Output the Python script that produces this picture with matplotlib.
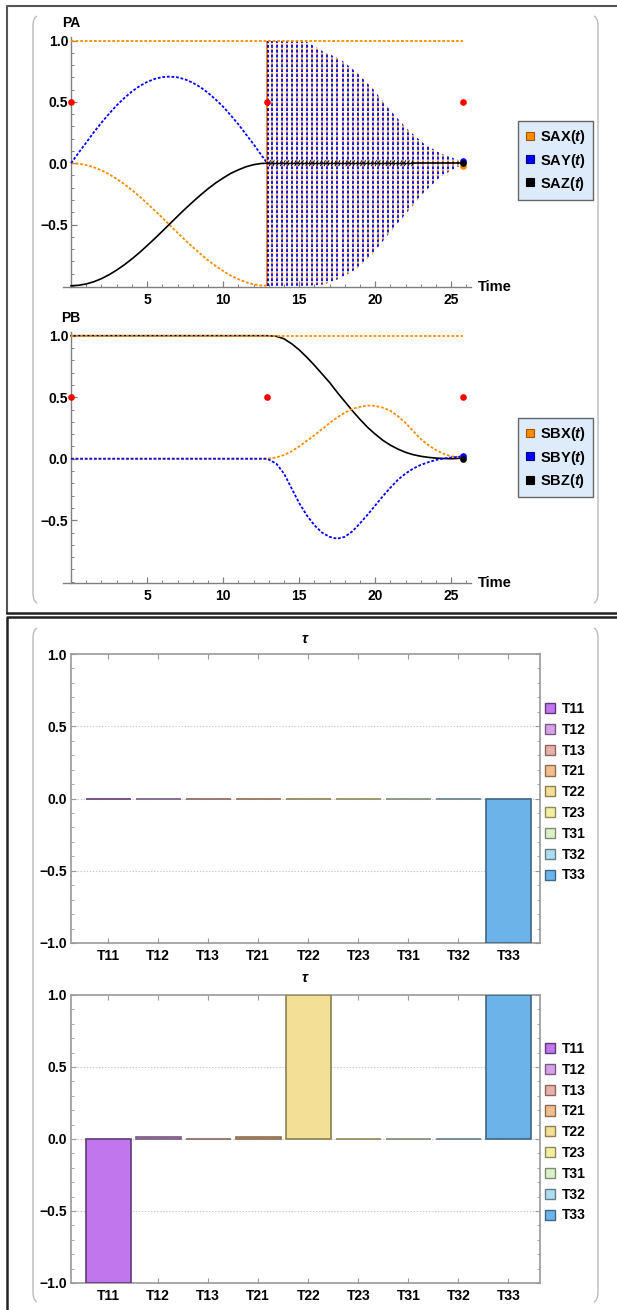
import numpy as np
import matplotlib.pyplot as plt
from matplotlib.patches import Polygon, PathPatch, Patch
from matplotlib.path import Path
from matplotlib.lines import Line2D
from matplotlib.ticker import MultipleLocator, FixedLocator
import matplotlib.patheffects as pe

plt.rcParams['font.family'] = ['Liberation Sans', 'DejaVu Sans']
plt.rcParams['font.weight'] = 'bold'
plt.rcParams['mathtext.fontset'] = 'custom'
plt.rcParams['mathtext.rm'] = 'Liberation Sans:bold'
plt.rcParams['mathtext.it'] = 'Liberation Sans:italic:bold'
plt.rcParams['lines.scale_dashes'] = False

# ---------------- data ----------------
# PA, before the switch at t = 12.9
t_pre = [0, 0.5, 1, 1.5, 2, 2.5, 3, 3.5, 4, 4.5, 5, 5.5, 6, 6.5, 7, 7.5, 8, 8.5, 9, 9.5,
         10, 10.5, 11, 11.5, 12, 12.5, 12.9]
sax_pre = [0.0, -0.004, -0.015, -0.033, -0.058, -0.090, -0.128, -0.171, -0.219, -0.271, -0.327,
           -0.385, -0.445, -0.506, -0.567, -0.627, -0.684, -0.739, -0.791, -0.838, -0.879,
           -0.917, -0.946, -0.971, -0.988, -0.998, -1.0]
say_pre = [0.0, 0.086, 0.169, 0.253, 0.331, 0.404, 0.472, 0.532, 0.585, 0.629, 0.663, 0.688,
           0.703, 0.707, 0.701, 0.684, 0.657, 0.621, 0.575, 0.521, 0.461, 0.391, 0.318, 0.236,
           0.156, 0.069, 0.0]
saz_pre = [-1.0, -0.996, -0.985, -0.967, -0.942, -0.910, -0.872, -0.829, -0.781, -0.729, -0.673,
           -0.615, -0.555, -0.494, -0.433, -0.373, -0.316, -0.261, -0.209, -0.162, -0.121,
           -0.083, -0.054, -0.029, -0.012, -0.002, 0.0]

# PA, after the switch: envelope of the fast SAX / SAY oscillation
env_t = [12.9, 13.5, 15.0, 15.5, 16.6, 17.7, 18.8, 19.9, 21.0, 22.1, 23.2, 24.3, 25.4, 25.8]
env_hi = [1.0, 1.0, 1.0, 0.99, 0.91, 0.85, 0.74, 0.60, 0.43, 0.28, 0.16, 0.08, 0.03, 0.01]
env_lo = [-1.0, -1.0, -1.0, -1.0, -0.99, -0.94, -0.86, -0.73, -0.56, -0.40, -0.24, -0.11, -0.03, -0.02]
saz_wig_t = [12.9, 22.5]
saz_wig = [0.0, 0.0]
saz_post_t = [22.5, 25.8]
saz_post = [0.0, 0.0]

# PB
t_b = [0, 12.9, 13.5, 14, 14.5, 15, 15.5, 16, 16.5, 17, 17.5, 18, 18.5, 19, 19.5, 20, 20.5,
       21, 21.5, 22, 22.5, 23, 23.5, 24, 24.5, 25, 25.8]
sbx = [0.0, 0.0, 0.01, 0.03, 0.06, 0.10, 0.145, 0.19, 0.24, 0.29, 0.335, 0.375, 0.405, 0.422,
       0.432, 0.43, 0.415, 0.39, 0.345, 0.29, 0.225, 0.16, 0.11, 0.07, 0.04, 0.02, 0.01]
sby = [0.0, 0.0, -0.04, -0.12, -0.24, -0.36, -0.46, -0.54, -0.60, -0.635, -0.65, -0.635, -0.59,
       -0.525, -0.455, -0.38, -0.305, -0.235, -0.17, -0.12, -0.08, -0.05, -0.028, -0.01, 0.002,
       0.01, 0.02]
sbz = [1.0, 1.0, 0.995, 0.975, 0.935, 0.885, 0.825, 0.76, 0.69, 0.62, 0.54, 0.465, 0.39, 0.32,
       0.255, 0.20, 0.15, 0.11, 0.078, 0.052, 0.033, 0.02, 0.011, 0.005, 0.002, 0.0, 0.005]

# norm (4th function, same style as the first)
norm_t = [0, 25.8]
norm = [1.0, 1.0]

# epilog points
red_t = [0, 12.9, 25.8]
red_y = [0.5, 0.5, 0.5]
end_a = {'orange': -0.02, 'blue': 0.015, 'black': 0.0}
end_b = {'orange': 0.01, 'blue': 0.02, 'black': 0.0}

# bar charts
cats = ['T11', 'T12', 'T13', 'T21', 'T22', 'T23', 'T31', 'T32', 'T33']
tau1 = [0, 0, 0, 0, 0, 0, 0, 0, -1.0]
tau2 = [-1.0, 0.012, 0.002, 0.012, 1.0, 0.001, 0.0, 0.0, 1.0]
fills = ['#C176EE', '#D8A0E6', '#E8B0A8', '#F2BE8C', '#F3DF96', '#F2F0A0', '#DCEFC8', '#AEDCEC', '#6BB3E8']
edges = ['#5E3A78', '#785A82', '#8A6660', '#8C6E50', '#8C8050', '#8C8A5C', '#7F8A72', '#657F88', '#3E6686']

ORANGE = '#FF8C00'
BLUE = '#0000FF'

W, H = 617, 1310
fig = plt.figure(figsize=(W / 100, H / 100), dpi=100)


def fx(px):
    return px / W


def fy(py):
    return 1 - py / H


def box(l, t, r, b):
    return [fx(l), fy(b), fx(r) - fx(l), fy(t) - fy(b)]


# ---------------- cell frames ----------------
def fline(xs, ys, **kw):
    fig.add_artist(Line2D([fx(x) for x in xs], [fy(y) for y in ys], transform=fig.transFigure, **kw))


fline([7, 7, 620], [613, 6, 6], color='#555555', lw=1.5)
fline([7, 620], [613, 613], color='#222222', lw=1.8)
fline([620, 7, 7], [617, 617, 1312], color='#222222', lw=1.8)


def bracket(x0, y0, y1, side):
    s = 1 if side == 'l' else -1
    pts = [(x0 + 4 * s, y0), (x0, y0 + 2), (x0, y0 + 10), (x0, y1 - 10), (x0, y1 - 2), (x0 + 4 * s, y1)]
    codes = [Path.MOVETO, Path.CURVE3, Path.CURVE3, Path.LINETO, Path.CURVE3, Path.CURVE3]
    p = Path([(fx(a), fy(b)) for a, b in pts], codes)
    fig.add_artist(PathPatch(p, transform=fig.transFigure, fc='none', ec='#BBBBBB', lw=1.0))


for (a, b) in [(16, 603), (628, 1302)]:
    bracket(33, a, b, 'l')
    bracket(598, a, b, 'r')


# ---------------- PA / PB time plots ----------------
def time_axes(top, bottom, name):
    ax = fig.add_axes(box(63, top, 471, bottom))
    ax.set_xlim(-0.53, 26.3)
    ax.set_ylim(-1.01, 1.03)
    for s in ['top', 'right']:
        ax.spines[s].set_visible(False)
    ax.spines['left'].set_position(('data', 0))
    for s in ['left', 'bottom']:
        ax.spines[s].set_color('#808080')
        ax.spines[s].set_linewidth(1.0)
    ax.xaxis.set_major_locator(FixedLocator([5, 10, 15, 20, 25]))
    ax.xaxis.set_minor_locator(MultipleLocator(1))
    ax.yaxis.set_major_locator(FixedLocator([-0.5, 0, 0.5, 1.0]))
    ax.yaxis.set_minor_locator(MultipleLocator(0.1))
    ax.set_yticklabels(['\u22120.5', '0.0', '0.5', '1.0'])
    ax.tick_params(which='both', direction='in', color='#808080', labelsize=10)
    ax.tick_params(which='major', length=4.5, width=0.9)
    ax.tick_params(which='minor', length=2.5, width=0.7)
    ax.tick_params(axis='x', pad=4)
    ax.tick_params(axis='y', pad=2)
    ax.patch.set_alpha(0)
    fig.text(fx(71), fy(top - 14), name, ha='center', va='center', fontsize=10)
    fig.text(fx(478), fy(bottom), 'Time', ha='left', va='center', fontsize=10.5)
    return ax


dash = (0, (2.0, 1.3))

axA = time_axes(37, 287, 'PA')
axA.plot(t_pre, sax_pre, color=ORANGE, lw=1.3, ls=dash, zorder=3)
axA.plot(t_pre, say_pre, color=BLUE, lw=1.3, ls=dash, zorder=3)
axA.plot(t_pre, saz_pre, color='black', lw=1.2, zorder=4)

# fast oscillation band (drawn as dashed columns clipped to the envelope)
env = Polygon(list(zip(env_t, env_hi)) + list(zip(env_t[::-1], env_lo[::-1])),
              closed=True, fc='none', ec='none', transform=axA.transData)
axA.add_patch(env)
cols = np.arange(env_t[0], env_t[-1], 0.33)
vo = axA.vlines(cols, -1.0, 1.0, colors=ORANGE, linestyles=[(2.0, (1.5, 2.0))], lw=1.3, zorder=3)
vb = axA.vlines(cols, -1.0, 1.0, colors=BLUE, linestyles=[(0, (2.0, 1.5))], lw=1.3, zorder=3)
vb.set_clip_path(env)
vo.set_clip_path(env)
axA.vlines([env_t[0]], -1.0, 1.0, colors=ORANGE, lw=1.4, zorder=3)
axA.vlines([env_t[0] + 0.05], -1.0, 1.0, colors=BLUE, linestyles=[(0, (2.0, 1.5))], lw=1.4, zorder=3)

axA.plot(saz_wig_t, saz_wig, color='black', lw=1.0, zorder=4,
         path_effects=[pe.withTickedStroke(spacing=2.6, angle=60, length=0.8, linewidth=0.7),
                       pe.TickedStroke(spacing=2.6, angle=-120, length=0.8, linewidth=0.7, offset=(1.3, 0))])
axA.plot(saz_post_t, saz_post, color='black', lw=1.2, zorder=4)
axA.plot(norm_t, norm, color=ORANGE, lw=1.3, ls=dash, zorder=5)
axA.plot(red_t, red_y, 'o', color='red', ms=4.8, mec='none', zorder=6, clip_on=False)
for c, v in end_a.items():
    axA.plot([25.8], [v], 'o', color=c if c != 'orange' else ORANGE, ms=4.8, mec='none', zorder=6)

axB = time_axes(332, 583, 'PB')
axB.plot(t_b, sbx, color=ORANGE, lw=1.3, ls=dash, zorder=3)
axB.plot(t_b, sby, color=BLUE, lw=1.3, ls=dash, zorder=3)
axB.plot(t_b, sbz, color='black', lw=1.2, zorder=2)
axB.plot(norm_t, norm, color=ORANGE, lw=1.3, ls=dash, zorder=5)
axB.plot(red_t, red_y, 'o', color='red', ms=4.8, mec='none', zorder=6, clip_on=False)
for c, v in end_b.items():
    axB.plot([25.8], [v], 'o', color=c if c != 'orange' else ORANGE, ms=4.8, mec='none', zorder=6)


def line_legend(ax, names, yc):
    hs = [Line2D([], [], marker='s', ls='none', mfc=c, mec=e, ms=6, mew=0.8)
          for c, e in [(ORANGE, '#A05500'), (BLUE, '#000088'), ('black', 'black')]]
    fig.legend(hs, names, loc='center left', bbox_to_anchor=(fx(518), fy(yc)),
               borderaxespad=0, fontsize=10.5, fancybox=False, framealpha=1,
               facecolor='#DDEBFA', edgecolor='#666666', handlelength=0.6,
               handletextpad=0.4, labelspacing=0.35, borderpad=0.5)


line_legend(axA, [r'SAX$(t)$', r'SAY$(t)$', r'SAZ$(t)$'], 160.5)
line_legend(axB, [r'SBX$(t)$', r'SBY$(t)$', r'SBZ$(t)$'], 457.5)


# ---------------- tau bar charts ----------------
def bar_chart(top, bottom, vals, title_y, leg_top):
    ax = fig.add_axes(box(70.5, top, 540, bottom))
    x = np.arange(1, len(cats) + 1)
    ax.bar(x, vals, width=0.9, color=fills, edgecolor=edges, linewidth=1.2, zorder=3)
    ax.set_xlim(0.25, 9.63)
    ax.set_ylim(-1, 1)
    for yv in [-0.5, 0, 0.5]:
        ax.axhline(yv, color='#C8C8C8', lw=0.8, ls=(0, (1, 1.2)), zorder=1)
    for s in ax.spines.values():
        s.set_color('#999999')
        s.set_linewidth(1.2)
    ax.set_xticks(x)
    ax.set_xticklabels(cats)
    ax.yaxis.set_major_locator(FixedLocator([-1, -0.5, 0, 0.5, 1]))
    ax.yaxis.set_minor_locator(MultipleLocator(0.1))
    ax.set_yticklabels(['\u22121.0', '\u22120.5', '0.0', '0.5', '1.0'])
    ax.tick_params(which='both', direction='in', color='#999999', labelsize=10,
                   top=True, right=True)
    ax.tick_params(which='major', length=3.5, width=0.8)
    ax.tick_params(which='minor', length=2.2, width=0.6)
    ax.tick_params(axis='x', pad=4)
    ax.tick_params(axis='y', pad=2.5)
    fig.text(fx(305), fy(title_y), r'$\tau$', ha='center', va='center', fontsize=10.5)
    hs = [Patch(facecolor=f, edgecolor=e, lw=1.0) for f, e in zip(fills, edges)]
    fig.legend(hs, cats, loc='upper left', bbox_to_anchor=(fx(545), fy(leg_top)),
               borderaxespad=0, borderpad=0, frameon=False, fontsize=10,
               handlelength=0.75, handleheight=0.75, handletextpad=0.45, labelspacing=0.49)
    return ax


bar_chart(654, 943, tau1, 639, 702)
bar_chart(995, 1283, tau2, 978, 1042)

fig.savefig('out.png', dpi=100)
